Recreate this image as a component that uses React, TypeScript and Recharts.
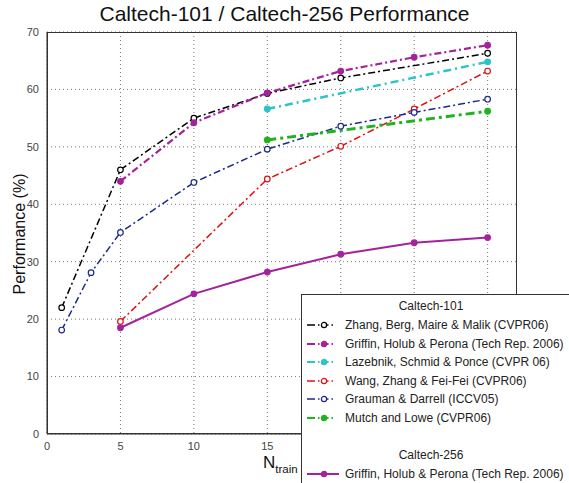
import { CartesianGrid, Line, LineChart, XAxis, YAxis } from 'recharts';

const nTrain = [1, 3, 5, 10, 15, 20, 25, 30];
const zhang = [22, null, 46, 55, 59.3, 62, null, 66.3];
const griffin101 = [null, null, 44, 54.2, 59.4, 63.2, 65.6, 67.7];
const lazebnik = [null, null, null, null, 56.6, null, null, 64.8];
const wang = [null, null, 19.6, null, 44.4, 50.1, 56.6, 63.2];
const grauman = [18.1, 28.1, 35.1, 43.8, 49.6, 53.6, 56.0, 58.3];
const mutch = [null, null, null, null, 51.2, null, null, 56.2];
const griffin256 = [null, null, 18.5, 24.4, 28.2, 31.3, 33.3, 34.2];

const xTicks = [0, 5, 10, 15, 20, 25, 30];
const yTicks = [0, 10, 20, 30, 40, 50, 60, 70];

const data = nTrain.map((n, i) => ({
  n,
  zhang: zhang[i],
  griffin101: griffin101[i],
  lazebnik: lazebnik[i],
  wang: wang[i],
  grauman: grauman[i],
  mutch: mutch[i],
  griffin256: griffin256[i],
}));

const series = [
  { key: 'zhang', name: 'Zhang, Berg, Maire & Malik (CVPR06)', color: '#000000', width: 1.5, fill: '#fff', dash: '7 3 2 3' },
  { key: 'griffin101', name: 'Griffin, Holub & Perona (Tech Rep. 2006)', color: '#a4239c', width: 2.2, fill: '#a4239c', dash: '7 3 2 3' },
  { key: 'lazebnik', name: 'Lazebnik, Schmid & Ponce (CVPR 06)', color: '#2cc4c4', width: 2.5, fill: '#2cc4c4', dash: '8 4 2 4' },
  { key: 'wang', name: 'Wang, Zhang & Fei-Fei (CVPR06)', color: '#e01010', width: 1.5, fill: '#fff', dash: '7 3 2 3' },
  { key: 'grauman', name: 'Grauman & Darrell (ICCV05)', color: '#1c2a8c', width: 1.5, fill: '#fff', dash: '7 3 2 3' },
  { key: 'mutch', name: 'Mutch and Lowe (CVPR06)', color: '#1fb41f', width: 3, fill: '#1fb41f', dash: '9 4 3 4' },
];

const font = '"Liberation Sans", Arial, sans-serif';

function Sample({ color, width, dash, fill }: { color: string; width: number; dash?: string; fill: string }) {
  return (
    <svg width={36} height={10} style={{ marginRight: 3, flex: 'none' }}>
      {dash ? (
        <>
          <line x1={1} y1={5} x2={9} y2={5} stroke={color} strokeWidth={width} />
          <line x1={12} y1={5} x2={30} y2={5} stroke={color} strokeWidth={width} strokeDasharray="1.5 3" />
        </>
      ) : (
        <line x1={1} y1={5} x2={33} y2={5} stroke={color} strokeWidth={width} />
      )}
      <circle cx={18} cy={5} r={2.6} stroke={color} strokeWidth={1.2} fill={fill} />
    </svg>
  );
}

export default function App() {
  return (
    <div style={{ position: 'absolute', left: 0, top: 0, width: 569, height: 483, background: '#fff', overflow: 'hidden', fontFamily: font }}>
      <LineChart width={569} height={483} data={data} margin={{ top: 32, right: 52, left: 0, bottom: 0 }}>
        <CartesianGrid stroke="#777" strokeDasharray="1 3" horizontalValues={yTicks} verticalValues={xTicks} />
        <XAxis
          dataKey="n"
          type="number"
          domain={[0, 32]}
          ticks={xTicks}
          tickFormatter={(v) => (Number(v) > 15 ? '' : String(v))}
          height={49}
          tick={{ fontSize: 11, fill: '#444', fontFamily: font }}
          tickLine={false}
          stroke="#333"
          allowDataOverflow
        />
        <YAxis
          type="number"
          domain={[0, 70]}
          ticks={yTicks}
          width={47}
          tick={{ fontSize: 11, fill: '#444', fontFamily: font }}
          tickLine={false}
          stroke="#333"
        />
        {series.map((s) => (
          <Line
            key={s.key}
            dataKey={s.key}
            name={s.name}
            stroke={s.color}
            strokeWidth={s.width}
            strokeDasharray={s.dash}
            dot={{ r: 2.8, stroke: s.color, strokeWidth: 1.2, fill: s.fill, strokeDasharray: '' }}
            connectNulls
            isAnimationActive={false}
          />
        ))}
        <Line
          dataKey="griffin256"
          name="Griffin, Holub & Perona (Tech Rep. 2006)"
          stroke="#a4239c"
          strokeWidth={2}
          dot={{ r: 2.8, stroke: '#a4239c', strokeWidth: 1.2, fill: '#a4239c' }}
          connectNulls
          isAnimationActive={false}
        />
      </LineChart>
      <div style={{ position: 'absolute', left: 47, top: 32, width: 470, height: 402, border: '1px solid #333', boxSizing: 'border-box', pointerEvents: 'none' }} />
      <div style={{ position: 'absolute', left: 0, top: 1, width: 569, textAlign: 'center', fontSize: 21, lineHeight: '26px', color: '#111' }}>
        Caltech-101 / Caltech-256 Performance
      </div>
      <div style={{ position: 'absolute', left: 20, top: 234, transform: 'translate(-50%, -50%) rotate(-90deg)', whiteSpace: 'nowrap', fontSize: 16, color: '#111' }}>
        Performance (%)
      </div>
      <div style={{ position: 'absolute', left: 263, top: 454, whiteSpace: 'nowrap', color: '#111', lineHeight: 1 }}>
        <span style={{ fontSize: 17 }}>N</span>
        <span style={{ fontSize: 11.5, position: 'relative', top: 5 }}>train</span>
      </div>
      <div style={{ position: 'absolute', left: 301, top: 294, width: 280, height: 200, border: '1px solid #333', background: '#fff', fontSize: 12, color: '#222' }}>
        <div style={{ position: 'absolute', left: 0, top: 4, width: 258, textAlign: 'center' }}>Caltech-101</div>
        {series.map((s, i) => (
          <div key={s.key} style={{ position: 'absolute', left: 4, top: 23 + i * 18.6, display: 'flex', alignItems: 'center', whiteSpace: 'nowrap' }}>
            <Sample color={s.color} width={s.width > 2 ? 2 : 1.5} dash="y" fill={s.fill} />
            <span>{s.name}</span>
          </div>
        ))}
        <div style={{ position: 'absolute', left: 0, top: 153, width: 258, textAlign: 'center' }}>Caltech-256</div>
        <div style={{ position: 'absolute', left: 4, top: 172, display: 'flex', alignItems: 'center', whiteSpace: 'nowrap' }}>
          <Sample color="#a4239c" width={2} fill="#a4239c" />
          <span>Griffin, Holub & Perona (Tech Rep. 2006)</span>
        </div>
      </div>
    </div>
  );
}
